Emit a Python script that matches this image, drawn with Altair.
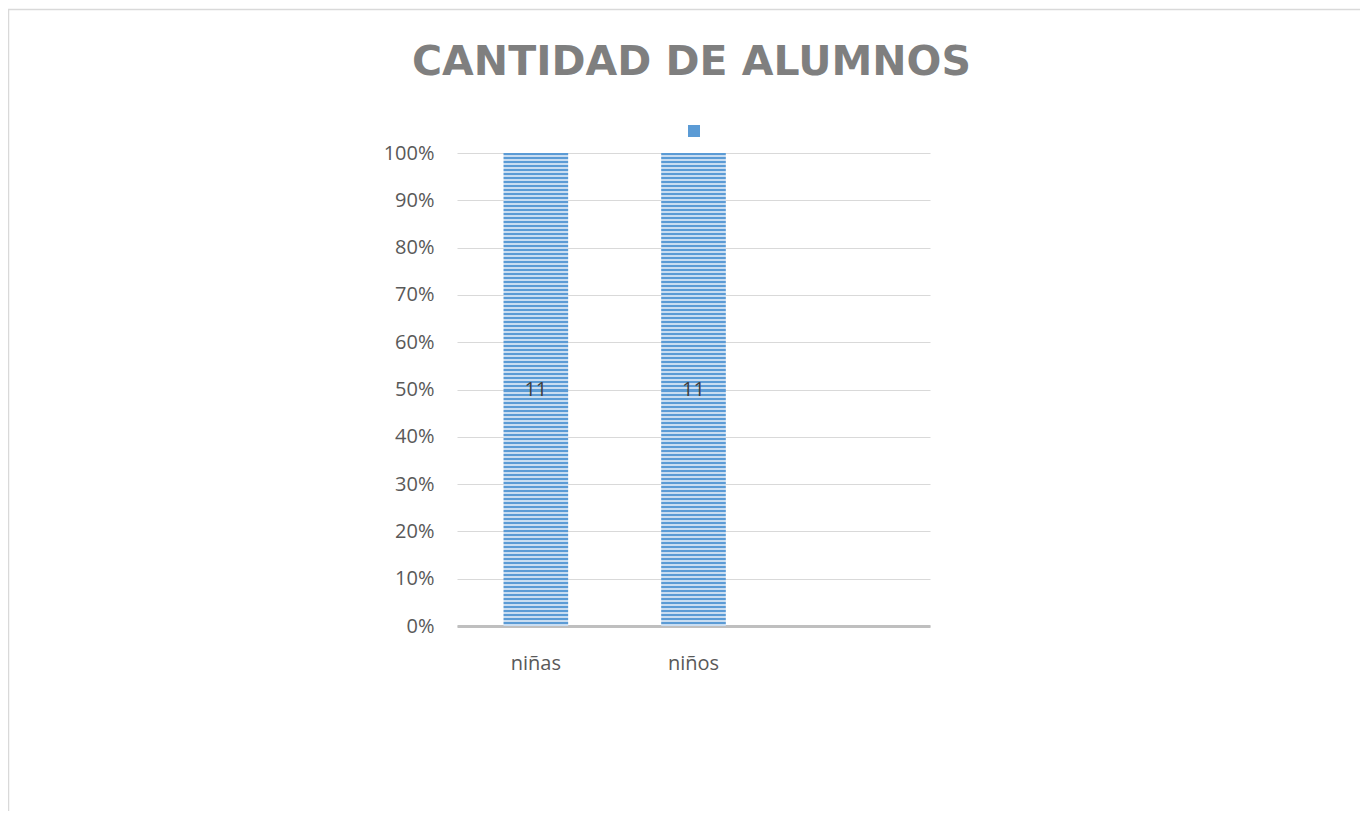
import altair as alt
import pandas as pd

categorias = ["niñas", "niños"]
cantidades = [11, 11]
dominio_x = ["niñas", "niños", " "]
serie = [" ", " "]

df = pd.DataFrame({"categoria": categorias, "cantidad": cantidades, "serie": serie})

DARK = "#5B9BD5"
LIGHT = "#C9DDF1"
n = 118
stops = []
for i in range(n):
    a = i / n
    b = (i + 0.5) / n
    c = (i + 1) / n
    stops += [
        alt.GradientStop(color=DARK, offset=a),
        alt.GradientStop(color=DARK, offset=b),
        alt.GradientStop(color=LIGHT, offset=b),
        alt.GradientStop(color=LIGHT, offset=c),
    ]
stripes = alt.Gradient(gradient="linear", stops=stops, x1=0, x2=0, y1=0, y2=1)

FONT = "Open Sans"
GRAY = "#595959"

x_enc = alt.X(
    "categoria:N",
    scale=alt.Scale(domain=dominio_x, paddingInner=0.59, paddingOuter=0.295),
    axis=alt.Axis(
        title=None, ticks=False, labelAngle=0, labelFont=FONT, labelFontSize=20,
        labelColor=GRAY, labelPadding=27, domainColor="#BFBFBF", domainWidth=3,
        grid=False,
    ),
)

base = alt.Chart(df).transform_joinaggregate(
    total="sum(cantidad)", groupby=["categoria"]
).transform_calculate(
    pct="datum.cantidad / datum.total", mid="datum.cantidad / datum.total / 2"
)

bars = base.mark_bar(color=stripes).encode(
    x=x_enc,
    y=alt.Y(
        "pct:Q",
        scale=alt.Scale(domain=[0, 1]),
        axis=alt.Axis(
            title=None, format=".0%", values=[i / 10 for i in range(11)],
            ticks=False, domain=False, labelFont=FONT, labelFontSize=20,
            labelColor=GRAY, labelPadding=23, gridColor="#D9D9D9", gridWidth=1,
        ),
    ),
)

legend_layer = base.mark_square(opacity=0, size=144).encode(
    x=x_enc,
    y=alt.Y("mid:Q"),
    color=alt.Color(
        "serie:N",
        scale=alt.Scale(domain=[" "], range=[DARK]),
        legend=alt.Legend(
            title=None, orient="none", legendX=231, legendY=-28,
            labelExpr="''", symbolType="square", symbolSize=144,
            symbolOpacity=1, symbolStrokeWidth=0, padding=0,
        ),
    ),
)

labels = base.mark_text(font=FONT, fontSize=20, color="#404040").encode(
    x=x_enc,
    y=alt.Y("mid:Q"),
    text=alt.Text("cantidad:Q"),
)

frame = alt.Chart(pd.DataFrame({"a": [0]})).mark_rect(
    fill=None, stroke="#D9D9D9", strokeWidth=1.5
).encode(
    x=alt.value(-448.5), x2=alt.value(1100), y=alt.value(-143.5), y2=alt.value(900)
)

chart = alt.layer(frame, bars, legend_layer, labels).properties(
    width=473,
    height=473,
    autosize=alt.AutoSizeParams(type="none"),
    padding={"left": 449, "top": 145, "right": 430, "bottom": 185},
    title=alt.TitleParams(
        "CANTIDAD DE ALUMNOS", font="DejaVu Sans", fontSize=41, fontWeight="bold",
        color="#7F7F7F", anchor="middle", offset=-75, dx=-2,
    ),
).configure_view(stroke=None)

chart.save("out.html", embed_options={"renderer": "svg", "actions": False})
